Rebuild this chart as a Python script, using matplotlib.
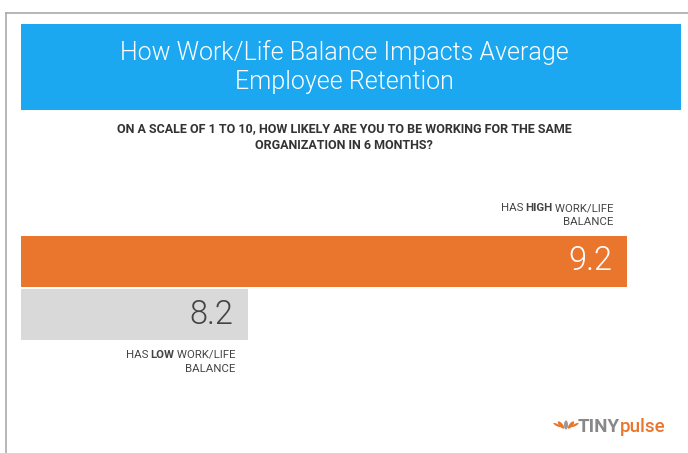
import matplotlib
matplotlib.use("Agg")
import matplotlib.pyplot as plt
from matplotlib.patches import Rectangle, Ellipse

# data
categories = ["high", "low"]
values = [9.2, 8.2]
value_labels = ["9.2", "8.2"]
bar_colors = ["#EA752C", "#D9D9D9"]
value_colors = ["white", "#444444"]

title = "How Work/Life Balance Impacts Average\nEmployee Retention"
subtitle = "ON A SCALE OF 1 TO 10, HOW LIKELY ARE YOU TO BE WORKING FOR THE SAME\nORGANIZATION IN 6 MONTHS?"

W, H = 688, 453
plt.rcParams['font.family'] = ['Roboto', 'DejaVu Sans']

fig = plt.figure(figsize=(W / 100, H / 100), dpi=100)


def px(x, y):
    return x / W, 1 - y / H


# outer frame
frame = fig.add_axes([6 / W, 0, 1, 1 - 13 / H])
frame.set_xticks([])
frame.set_yticks([])
for s in ["right", "bottom"]:
    frame.spines[s].set_visible(False)
for s in ["left", "top"]:
    frame.spines[s].set_color("#AAAAAA")
    frame.spines[s].set_linewidth(1.2)
frame.patch.set_alpha(0)

# title box
fig.patches.append(Rectangle(px(21, 110), 660 / W, 86 / H, transform=fig.transFigure,
                             facecolor="#1CA8F0", edgecolor="none"))
fig.text(*px(344, 67), title, ha="center", va="center", color="white",
         fontsize=18, fontweight=300, linespacing=1.3)

fig.text(*px(344, 137), subtitle, ha="center", va="center", color="#333333",
         fontsize=9, fontweight="bold", linespacing=1.45)

# bars start at the axis left edge
ax = fig.add_axes([21 / W, (H - 341) / H, 660 / W, 106 / H])
ypos = [1, 0]
base = 7.6
ax.barh(ypos, [v - base for v in values], left=base, height=0.98, color=bar_colors)
ax.set_xlim(base, 9.342)
ax.set_ylim(-0.5, 1.5)
ax.axis("off")
for y, v, lab, c in zip(ypos, values, value_labels, value_colors):
    ax.text(v - 0.04, y, lab, ha="right", va="center", color=c,
            fontsize=23.5, fontweight=300)

fig.canvas.draw()
renderer = fig.canvas.get_renderer()


def mixed_right(x_right, y, parts, size=8.2):
    # parts drawn right to left so the line ends at x_right
    x = x_right
    for txt, weight in reversed(parts):
        t = fig.text(x / W, 1 - y / H, txt, ha="right", va="center",
                     fontsize=size, fontweight=weight, color="#444444")
        bb = t.get_window_extent(renderer)
        x -= bb.width - 1


mixed_right(613, 208, [("HAS ", "normal"), ("HIGH", "bold"), (" WORK/LIFE", "normal")])
mixed_right(613, 222, [("BALANCE", "normal")])
mixed_right(235, 355, [("HAS ", "normal"), ("LOW", "bold"), (" WORK/LIFE", "normal")])
mixed_right(235, 369, [("BALANCE", "normal")])

# logo
for dx, w, h, ang, col in [(0, 4, 9, 0, "#999999"), (-5, 4, 8, 25, "#EA752C"), (5, 4, 8, -25, "#EA752C"),
                           (-9, 3, 6, 50, "#EA752C"), (9, 3, 6, -50, "#EA752C")]:
    fig.patches.append(Ellipse(px(566 + dx, 425), w / W, h / H, angle=ang,
                               transform=fig.transFigure, facecolor=col, edgecolor="none"))
t = fig.text(*px(578, 427), "TINY", ha="left", va="center", color="#888888",
             fontsize=13.5, fontweight="bold")
bb = t.get_window_extent(renderer)
fig.text(578 / W + bb.width / W, 1 - 427 / H, "pulse", ha="left", va="center",
         color="#EA752C", fontsize=13.5, fontweight=500)

fig.savefig("out.png", dpi=100)
